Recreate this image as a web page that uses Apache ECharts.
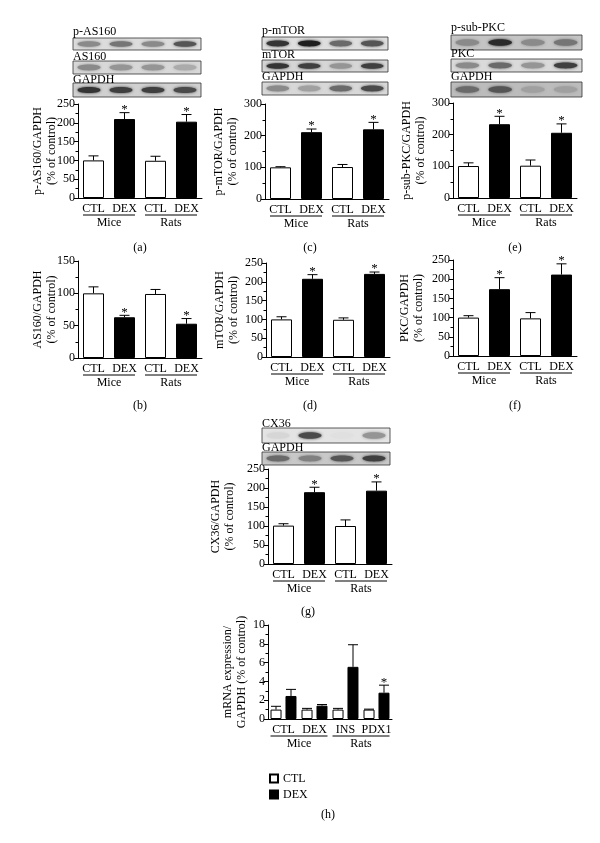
<!DOCTYPE html>
<html><head><meta charset="utf-8">
<script src="https://cdn.jsdelivr.net/npm/echarts@6/dist/echarts.min.js"></script>
<style>html,body{margin:0;padding:0;background:#fff}#c{width:600px;height:843px}</style>
</head><body><div id="c"></div><script>
// ---------- data ----------
const xCats = ['CTL', 'DEX', 'CTL', 'DEX'];
const hCats = ['CTL', 'DEX', 'INS', 'PDX1'];
const groupNames = ['Mice', 'Rats'];
const groupSpans = [[0, 1], [2, 3]];

const aVal = [100, 210, 99, 203], aErr = [12, 17, 12, 19], aSig = [0, 1, 0, 1];
const bVal = [100, 63, 99, 53],   bErr = [10, 3, 7, 8],    bSig = [0, 1, 0, 1];
const cVal = [100, 211, 101, 220], cErr = [2, 10, 8, 22],  cSig = [0, 1, 0, 1];
const dVal = [100, 208, 99, 221], dErr = [7, 11, 5, 5],    dSig = [0, 1, 0, 1];
const eVal = [101, 233, 102, 206], eErr = [10, 25, 18, 28], eSig = [0, 1, 0, 1];
const fVal = [100, 174, 98, 212], fErr = [5, 30, 15, 28],  fSig = [0, 1, 0, 1];
const gVal = [101, 189, 100, 193], gErr = [5, 13, 16, 23], gSig = [0, 1, 0, 1];

const hCtl = [1.0, 1.0, 1.0, 1.0],   hCtlErr = [0.35, 0.13, 0.13, 0.05], hCtlSig = [0, 0, 0, 0];
const hDex = [2.45, 1.42, 5.55, 2.8], hDexErr = [0.7, 0.12, 2.35, 0.8],  hDexSig = [0, 0, 0, 1];

// y-axis tick settings (max, step)
const aAxis = [250, 50], bAxis = [150, 50], cAxis = [300, 100], dAxis = [250, 50];
const eAxis = [300, 100], fAxis = [250, 50], gAxis = [250, 50], hAxis = [10, 2];

// western blot band intensities (lanes 1-4)
const blotA = [['p-AS160', [0.45, 0.55, 0.45, 0.7]], ['AS160', [0.45, 0.4, 0.4, 0.3]], ['GAPDH', [0.85, 0.8, 0.8, 0.75]]];
const blotC = [['p-mTOR', [0.85, 0.95, 0.6, 0.7]], ['mTOR', [0.85, 0.8, 0.4, 0.8]], ['GAPDH', [0.45, 0.35, 0.6, 0.75]]];
const blotE = [['p-sub-PKC', [0.45, 0.9, 0.45, 0.55]], ['PKC', [0.45, 0.6, 0.4, 0.8]], ['GAPDH', [0.6, 0.7, 0.35, 0.35]]];
const blotG = [['CX36', [0.1, 0.75, 0.05, 0.4]], ['GAPDH', [0.6, 0.5, 0.7, 0.8]]];

// ---------- layout ----------
const FONT = 'Liberation Serif';
const panels = [
  {val: aVal, err: aErr, sig: aSig, ax: aAxis, name: 'p-AS160/GAPDH\n(% of control)', left: 78, top: 104, bottom: 198, gap: 19, free: true, tag: '(a)'},
  {val: bVal, err: bErr, sig: bSig, ax: bAxis, name: 'AS160/GAPDH\n(% of control)', left: 78, top: 261, bottom: 358, gap: 19, free: true, tag: '(b)'},
  {val: cVal, err: cErr, sig: cSig, ax: cAxis, name: 'p-mTOR/GAPDH\n(% of control)', left: 265, top: 104, bottom: 199, gap: 23, tag: '(c)'},
  {val: dVal, err: dErr, sig: dSig, ax: dAxis, name: 'mTOR/GAPDH\n(% of control)', left: 266, top: 263, bottom: 357, gap: 24, tag: '(d)'},
  {val: eVal, err: eErr, sig: eSig, ax: eAxis, name: 'p-sub-PKC/GAPDH\n(% of control)', left: 453, top: 103, bottom: 198, gap: 24, tag: '(e)'},
  {val: fVal, err: fErr, sig: fSig, ax: fAxis, name: 'PKC/GAPDH\n(% of control)', left: 453, top: 260, bottom: 356, gap: 27, tag: '(f)'},
  {val: gVal, err: gErr, sig: gSig, ax: gAxis, name: 'CX36/GAPDH\n(% of control)', left: 268, top: 469, bottom: 564, gap: 31, tag: '(g)'}
];
const hPanel = {ax: hAxis, name: 'mRNA expression/\nGAPDH (% of control)', left: 268, top: 625, bottom: 719, gap: 18};
const GW = 124;

const grids = [], xAxes = [], yAxes = [], series = [];

function yAxisCfg(k, p) {
  const cfg = {
    gridIndex: k, type: 'value', min: 0, max: p.ax[0], interval: p.ax[1],
    axisLine: {show: true, lineStyle: {color: '#000', width: 1}},
    axisTick: {show: true, inside: false, length: 4, lineStyle: {color: '#000'}},
    minorTick: {show: true, splitNumber: 2, length: 2.5, lineStyle: {color: '#000'}},
    splitLine: {show: false},
    axisLabel: {fontFamily: FONT, fontSize: 12, color: '#000', margin: 3},
    name: p.name, nameLocation: 'middle', nameRotate: 90, nameGap: p.gap,
    nameTextStyle: {fontFamily: FONT, fontSize: 12, color: '#000', lineHeight: 14}
  };
  if (p.free) cfg.nameMoveOverlap = false;
  return cfg;
}
function xAxisCfg(k, cats) {
  return {
    gridIndex: k, type: 'category', data: cats,
    axisLine: {lineStyle: {color: '#000', width: 1}}, axisTick: {show: false},
    axisLabel: {fontFamily: FONT, fontSize: 12, color: '#000', margin: 5, interval: 0}
  };
}
function errSeries(k, vals, errs, sigs, offset) {
  return {
    type: 'custom', xAxisIndex: k, yAxisIndex: k, z: 1, silent: true,
    data: vals.map((v, i) => [i, v, errs[i], sigs[i]]),
    renderItem: function (params, api) {
      const base = api.coord([api.value(0), api.value(1)]);
      const top = api.coord([api.value(0), api.value(1) + api.value(2)]);
      const x = base[0] + offset;
      const ch = [
        {type: 'line', shape: {x1: x, y1: base[1], x2: x, y2: top[1]}, style: {stroke: '#000', lineWidth: 1}},
        {type: 'line', shape: {x1: x - 5, y1: top[1], x2: x + 5, y2: top[1]}, style: {stroke: '#000', lineWidth: 1}}
      ];
      if (api.value(3)) ch.push({type: 'text', x: x, y: top[1] - 3,
        style: {text: '*', fontFamily: FONT, fontSize: 13, fill: '#000', align: 'center', verticalAlign: 'middle'}});
      return {type: 'group', children: ch};
    }
  };
}
function groupSeries(k, halfW) {
  return {
    type: 'custom', xAxisIndex: k, yAxisIndex: k, silent: true,
    encode: {x: [0, 1], y: 2},
    data: groupSpans.map(s => [s[0], s[1], 0]),
    renderItem: function (params, api) {
      const p0 = api.coord([api.value(0), 0]);
      const p1 = api.coord([api.value(1), 0]);
      const x0 = p0[0] - halfW, x1 = p1[0] + halfW, y = p0[1] + 17;
      return {type: 'group', children: [
        {type: 'line', shape: {x1: x0, y1: y, x2: x1, y2: y}, style: {stroke: '#000', lineWidth: 1}},
        {type: 'text', x: (x0 + x1) / 2, y: y + 1.5,
          style: {text: groupNames[params.dataIndex], fontFamily: FONT, fontSize: 12, fill: '#000', align: 'center', verticalAlign: 'top'}}
      ]};
    }
  };
}

panels.forEach((p, k) => {
  grids.push({left: p.left, top: p.top, width: GW, height: p.bottom - p.top});
  xAxes.push(xAxisCfg(k, xCats));
  yAxes.push(yAxisCfg(k, p));
  series.push({
    type: 'bar', name: 'panel' + k, xAxisIndex: k, yAxisIndex: k, barWidth: 21, z: 2, silent: true,
    data: p.val.map((v, i) => ({value: v, itemStyle: i % 2 === 0
      ? {color: '#fff', borderColor: '#000', borderWidth: 1}
      : {color: '#000', borderColor: '#000', borderWidth: 1}}))
  });
  series.push(errSeries(k, p.val, p.err, p.sig, 0));
  series.push(groupSeries(k, 10.5));
});

// panel (h)
const hk = panels.length;
grids.push({left: hPanel.left, top: hPanel.top, width: GW, height: hPanel.bottom - hPanel.top});
xAxes.push(xAxisCfg(hk, hCats));
yAxes.push(yAxisCfg(hk, hPanel));
series.push({type: 'bar', name: 'CTL', xAxisIndex: hk, yAxisIndex: hk, barWidth: 11, barGap: '36%', z: 2, silent: true,
  itemStyle: {color: '#fff', borderColor: '#000', borderWidth: 1}, data: hCtl});
series.push({type: 'bar', name: 'DEX', xAxisIndex: hk, yAxisIndex: hk, barWidth: 11, barGap: '36%', z: 2, silent: true,
  itemStyle: {color: '#000', borderColor: '#000', borderWidth: 1}, data: hDex});
series.push(errSeries(hk, hCtl, hCtlErr, hCtlSig, -7.5));
series.push(errSeries(hk, hDex, hDexErr, hDexSig, 7.5));
series.push(groupSeries(hk, 13));

// ---------- decorations: blots and panel tags ----------
const graphic = [];
function gray(t) { const g = Math.round(235 - 215 * t); return 'rgb(' + g + ',' + g + ',' + g + ')'; }
function addBlot(rows, x, w, geo, bg) {
  rows.forEach((r, j) => {
    const g = geo[j];
    graphic.push({type: 'rect', shape: {x: x, y: g[1], width: w, height: g[2]},
      style: {fill: bg[j], stroke: '#333', lineWidth: 0.8}, z: 1});
    r[1].forEach((t, i) => {
      const cx = x + w * (i + 0.5) / 4;
      graphic.push({type: 'ellipse', shape: {cx: cx, cy: g[1] + g[2] * 0.5, rx: w / 8 * 0.72, ry: g[2] * 0.16 + 0.8},
        style: {fill: gray(t), shadowBlur: 3, shadowColor: gray(t)}, z: 2});
    });
    graphic.push({type: 'text', x: x, y: g[0],
      style: {text: r[0], fontFamily: FONT, fontSize: 12, fill: '#000', verticalAlign: 'middle'}, z: 3});
  });
}
addBlot(blotA, 73, 128, [[32, 38, 12], [57, 61, 13], [80, 83, 14]], ['#dcdcdc', '#d8d8d8', '#d0d0d0']);
addBlot(blotC, 262, 126, [[31, 37, 13], [55, 60, 12], [77, 82, 13]], ['#dedede', '#d6d6d6', '#d8d8d8']);
addBlot(blotE, 451, 131, [[28, 35, 15], [54, 59, 13], [77, 82, 15]], ['#c4c4c4', '#dadada', '#bcbcbc']);
addBlot(blotG, 262, 128, [[424, 428, 15], [448, 452, 13]], ['#e4e4e4', '#c8c8c8']);

const tags = [['(a)', 140, 248], ['(b)', 140, 406], ['(c)', 310, 248], ['(d)', 310, 406],
  ['(e)', 515, 248], ['(f)', 515, 406], ['(g)', 308, 612], ['(h)', 328, 815]];
tags.forEach(t => graphic.push({type: 'text', x: t[1], y: t[2],
  style: {text: t[0], fontFamily: FONT, fontSize: 12, fill: '#000', align: 'center', verticalAlign: 'middle'}}));

const chart = echarts.init(document.getElementById('c'), null, {renderer: 'canvas'});
chart.setOption({
  animation: false,
  backgroundColor: '#fff',
  grid: grids, xAxis: xAxes, yAxis: yAxes, series: series, graphic: graphic,
  legend: {data: ['CTL', 'DEX'], orient: 'vertical', left: 264, top: 767, icon: 'rect',
    itemWidth: 8, itemHeight: 8, itemGap: 3, selectedMode: false,
    textStyle: {fontFamily: FONT, fontSize: 12, color: '#000', lineHeight: 13}}
});
</script></body></html>
